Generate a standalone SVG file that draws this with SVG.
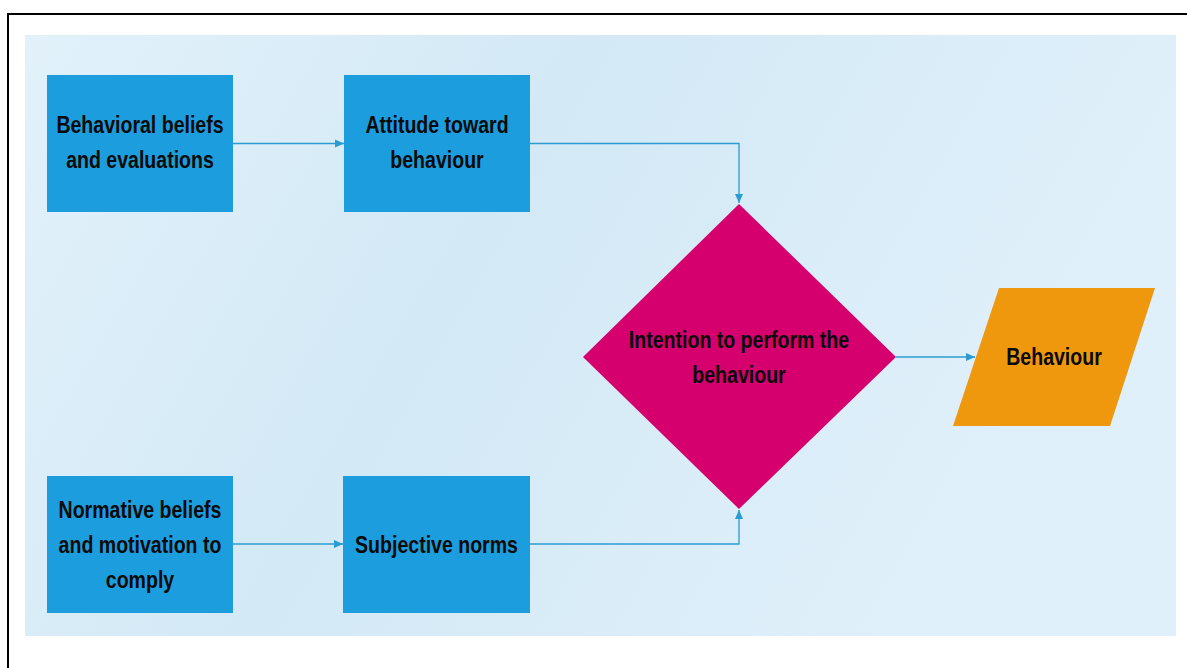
<svg xmlns="http://www.w3.org/2000/svg" width="1187" height="668" viewBox="0 0 1187 668">
  <defs>
    <linearGradient id="panelGrad" x1="0" y1="0" x2="1" y2="0.3">
      <stop offset="0" stop-color="#E2F1FA"/>
      <stop offset="0.45" stop-color="#D3E9F6"/>
      <stop offset="1" stop-color="#E0F0FA"/>
    </linearGradient>
    <marker id="arrow" markerUnits="userSpaceOnUse" markerWidth="10" markerHeight="10" refX="9" refY="5" orient="auto">
      <path d="M0,1 L9,5 L0,9 Z" fill="#2A9CD0"/>
    </marker>
    <style>
      .box { fill: #1C9EDE; }
      .lbl { font-family: "Liberation Sans", Arial, sans-serif; font-weight: bold; font-size: 23px; fill: #0A0A0A; text-anchor: middle; }
      .conn { fill: none; stroke: #2A9CD0; stroke-width: 1.3; marker-end: url(#arrow); }
    </style>
  </defs>

  <rect x="0" y="0" width="1187" height="668" fill="#FFFFFF"/>
  <path d="M8,668 L8,14 L1187,14" fill="none" stroke="#000000" stroke-width="2"/>
  <rect x="25" y="35" width="1151" height="601" fill="url(#panelGrad)"/>

  <g id="connectors">
    <path class="conn" d="M233,143.5 L344,143.5"/>
    <path class="conn" d="M530,143.5 L739,143.5 L739,203"/>
    <path class="conn" d="M233,544 L343,544"/>
    <path class="conn" d="M530,544 L739,544 L739,510"/>
    <path class="conn" d="M896,357 L975,357"/>
  </g>

  <g id="node-behavioral-beliefs">
    <rect class="box" x="47" y="75" width="186" height="137"/>
    <text class="lbl" transform="translate(140 133) scale(0.85 1)"><tspan x="0" y="0">Behavioral beliefs</tspan><tspan x="0" y="35">and evaluations</tspan></text>
  </g>

  <g id="node-attitude">
    <rect class="box" x="344" y="75" width="186" height="137"/>
    <text class="lbl" transform="translate(437 133) scale(0.85 1)"><tspan x="0" y="0">Attitude toward</tspan><tspan x="0" y="35">behaviour</tspan></text>
  </g>

  <g id="node-normative-beliefs">
    <rect class="box" x="47" y="476" width="186" height="137"/>
    <text class="lbl" transform="translate(140 518) scale(0.85 1)"><tspan x="0" y="0">Normative beliefs</tspan><tspan x="0" y="35">and motivation to</tspan><tspan x="0" y="70">comply</tspan></text>
  </g>

  <g id="node-subjective-norms">
    <rect class="box" x="343" y="476" width="187" height="137"/>
    <text class="lbl" transform="translate(436.5 553) scale(0.85 1)"><tspan x="0" y="0">Subjective norms</tspan></text>
  </g>

  <g id="node-intention">
    <polygon points="739,204 896,357 739,509 583,357" fill="#D5006E"/>
    <text class="lbl" transform="translate(739 348) scale(0.85 1)"><tspan x="0" y="0">Intention to perform the</tspan><tspan x="0" y="35">behaviour</tspan></text>
  </g>

  <g id="node-behaviour">
    <polygon points="999,288 1155,288 1110,426 953,426" fill="#EF980E"/>
    <text class="lbl" transform="translate(1054 365) scale(0.85 1)"><tspan x="0" y="0">Behaviour</tspan></text>
  </g>
</svg>
